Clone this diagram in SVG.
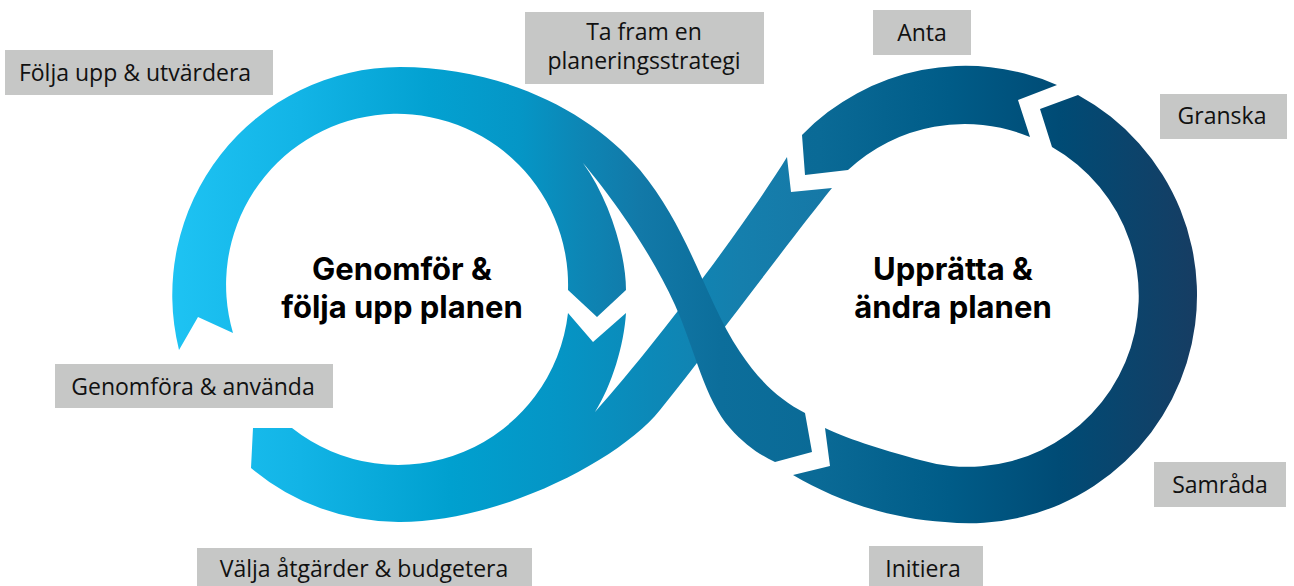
<svg xmlns="http://www.w3.org/2000/svg" width="1294" height="586" viewBox="0 0 1294 586">
<defs>
<linearGradient id="g" gradientUnits="userSpaceOnUse" x1="172" y1="0" x2="1195" y2="0">
<stop offset="0" stop-color="#1ec3f3"/>
<stop offset="0.125" stop-color="#12b4e6"/>
<stop offset="0.252" stop-color="#03a1d1"/>
<stop offset="0.34" stop-color="#0596c6"/>
<stop offset="0.399" stop-color="#0d86b5"/>
<stop offset="0.457" stop-color="#1279a8"/>
<stop offset="0.536" stop-color="#0c6e9b"/>
<stop offset="0.633" stop-color="#0a6a96"/>
<stop offset="0.76" stop-color="#005c88"/>
<stop offset="0.868" stop-color="#004b75"/>
<stop offset="1" stop-color="#163d63"/>
</linearGradient>
<linearGradient id="gb" gradientUnits="userSpaceOnUse" x1="172" y1="0" x2="1195" y2="0">
<stop offset="0" stop-color="#1ec3f3"/>
<stop offset="0.125" stop-color="#12b4e6"/>
<stop offset="0.272" stop-color="#00a0cf"/>
<stop offset="0.379" stop-color="#0595c5"/>
<stop offset="0.467" stop-color="#0c89b8"/>
<stop offset="0.555" stop-color="#157fad"/>
<stop offset="0.653" stop-color="#1677a5"/>
<stop offset="1" stop-color="#1677a5"/>
</linearGradient>
</defs>
<style>
.lb{fill:#c6c7c6}
.lt{font-family:"Open Sans","Liberation Sans",sans-serif;font-size:23px;fill:#111;text-anchor:middle}
.mt{font-family:Inter,"Liberation Sans",sans-serif;font-weight:700;font-size:31px;fill:#000;text-anchor:middle}
</style>
<rect width="1294" height="586" fill="#fff"/>
<g id="connectors">
<path id="right-lower" fill="url(#g)" d="M1078,95 L1040,109 L1052,147 A171,171 0 0 1 920,460 C890,452 850,440 825,428 L830,466 L793,475 C835,500 890,519 945,522 A228,228 0 0 0 1078,95 Z"/>
<path id="right-upper" fill="url(#g)" d="M802,135 L805,175 L848,170 A171,171 0 0 1 1030,137 L1018,100 L1057,85 A228,228 0 0 0 802,135 Z"/>
<path id="left-lower" fill="url(#gb)" d="M253,428 L292,428 A171,171 0 0 0 568,313 L593,342 L626,313 C624,345 612,385 595,412 C655,345 745,225 787,157 L791,192 L832,188 C790,240 720,335 660,410 C620,460 500,522 400,522 A228,228 0 0 1 251,468 Z"/>
<path id="left-upper" fill="url(#g)" d="M179,350 L198,317 L233,333 A171,171 0 1 1 568,290 L597,317 L626,290 C626,255 610,200 583,163 C610,195 650,250 675,305 C695,350 705,400 730,428 C745,445 760,455 775,462 L812,452 L805,413 C780,400 760,382 740,352 C705,300 690,230 640,170 C590,110 500,67 400,67 A228,228 0 0 0 179,350 Z"/>
</g>
<g id="center-left">
<text class="mt" x="402" y="280">Genomför &amp;</text>
<text class="mt" x="402" y="318">följa upp planen</text>
</g>
<g id="center-right">
<text class="mt" x="953" y="280">Upprätta &amp;</text>
<text class="mt" x="953" y="318">ändra planen</text>
</g>
<g id="n-folja">
<rect class="lb" x="5" y="50" width="268" height="45"/>
<text class="lt" x="135" y="81">Följa upp &amp; utvärdera</text>
</g>
<g id="n-tafram">
<rect class="lb" x="525" y="12" width="239" height="72"/>
<text class="lt" x="644" y="40">Ta fram en</text>
<text class="lt" x="644" y="69">planeringsstrategi</text>
</g>
<g id="n-anta">
<rect class="lb" x="873" y="10" width="98" height="45"/>
<text class="lt" x="922" y="41">Anta</text>
</g>
<g id="n-granska">
<rect class="lb" x="1160" y="94" width="127" height="45"/>
<text class="lt" x="1222" y="124">Granska</text>
</g>
<g id="n-genomfora">
<rect class="lb" x="55" y="364" width="278" height="44"/>
<text class="lt" x="193" y="395">Genomföra &amp; använda</text>
</g>
<g id="n-valja">
<rect class="lb" x="197" y="548" width="335" height="40"/>
<text class="lt" x="364" y="577">Välja åtgärder &amp; budgetera</text>
</g>
<g id="n-samrada">
<rect class="lb" x="1154" y="462" width="132" height="45"/>
<text class="lt" x="1220" y="493">Samråda</text>
</g>
<g id="n-initiera">
<rect class="lb" x="869" y="546" width="114" height="42"/>
<text class="lt" x="923" y="577">Initiera</text>
</g>
</svg>
